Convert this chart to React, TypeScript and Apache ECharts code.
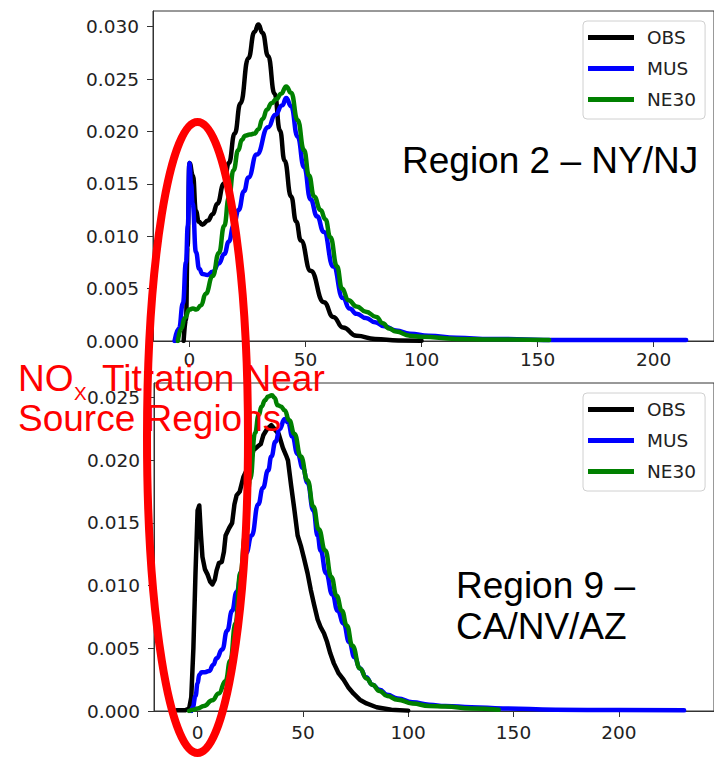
import React, { useEffect, useRef } from "react";
import * as echarts from "echarts";

// Ozone concentration density curves for two regions
const seriesNames = ["OBS", "MUS", "NE30"];
const seriesColors = ["#000000", "#0000ff", "#008000"];
const xTicks = [0, 50, 100, 150, 200];
const region2YTicks = [0, 0.005, 0.01, 0.015, 0.02, 0.025, 0.03];
const region9YTicks = [0, 0.005, 0.01, 0.015, 0.02, 0.025];

// Region 2 – NY/NJ
const region2Obs: [number, number][] = [
  [-2.5, 0], [-1.5, 0.002], [-0.8, 0.009], [0, 0.017], [1.5, 0.0158], [2.8, 0.0124], [4, 0.0114],
  [5.6, 0.0111], [8, 0.0115], [10, 0.0121], [12, 0.0131], [14.8, 0.015], [17, 0.017],
  [19.5, 0.0198], [22, 0.0227], [25.4, 0.027], [28, 0.0295], [29.7, 0.0302], [31.5, 0.0294],
  [33.9, 0.0272], [36.7, 0.0236], [39, 0.0201], [41, 0.0172], [43.8, 0.0138], [46, 0.0114],
  [48, 0.0096], [52.2, 0.0067], [57.9, 0.0037], [62, 0.0023], [66.1, 0.0013], [72, 0.0005],
  [80, 0.0002], [90, 0.00005], [100, 0.00002],
];
const region2Mus: [number, number][] = [
  [-6.4, 0], [-4.5, 0.0012], [-2.8, 0.0036], [-1.5, 0.0075], [-0.7, 0.011], [0, 0.017],
  [0.7, 0.015], [1.4, 0.0131], [2.8, 0.0085], [4.2, 0.0069], [5.6, 0.0064], [7.8, 0.0063],
  [10, 0.0066], [12.7, 0.0074], [15, 0.0083], [17, 0.0095], [19, 0.011], [21.2, 0.0125],
  [23.5, 0.0143], [25.4, 0.0156], [29, 0.0178], [33.9, 0.0204], [37, 0.0216], [40, 0.0225],
  [41.7, 0.0232], [43.8, 0.0224], [46.6, 0.0195], [49.4, 0.0166], [52.2, 0.0135],
  [55, 0.0119], [57.9, 0.0104], [62, 0.0071], [66.1, 0.0041], [69, 0.0031], [72, 0.0026],
  [76, 0.0022], [80, 0.0018], [84, 0.0014], [89, 0.001], [95, 0.0007], [103, 0.0005],
  [115, 0.0003], [130, 0.0002], [160, 0.0001], [214, 0.0001],
];
const region2Ne30: [number, number][] = [
  [-5, 0], [-3.5, 0.0012], [-2, 0.0022], [0, 0.003], [1.5, 0.0031], [3, 0.003], [5, 0.0034],
  [7, 0.0045], [10, 0.0062], [12.7, 0.0084], [15, 0.011], [17, 0.0137], [19, 0.0163],
  [21, 0.0182], [22.6, 0.0192], [24, 0.0196], [26, 0.0197], [28, 0.0198], [29.7, 0.0202],
  [31.5, 0.0212], [33.5, 0.0221], [35.3, 0.0227], [37.5, 0.0231], [39.5, 0.0236],
  [41.7, 0.0243], [43.8, 0.0237], [46.6, 0.0211], [49.4, 0.0182], [51.5, 0.0158],
  [53.7, 0.0138], [56.5, 0.0125], [58.6, 0.0116], [60.7, 0.0099], [63.6, 0.0071],
  [65.7, 0.005], [68.5, 0.0039], [72, 0.0033], [76, 0.0028], [80.5, 0.0023], [83.3, 0.0017],
  [86, 0.0012], [89, 0.0009], [95, 0.0005], [100, 0.0004], [115, 0.0002], [130, 0.00015],
  [155, 0.0001],
];

// Region 9 – CA/NV/AZ
const region9Obs: [number, number][] = [
  [-10, 0.00005], [-6, 0.00005], [-4, 0.0002], [-3, 0.0011], [-2, 0.005], [-1, 0.011],
  [0, 0.016], [0.8, 0.0164], [1.6, 0.014], [2.3, 0.0123], [3.5, 0.0113], [4.7, 0.0109],
  [6, 0.0103], [7, 0.0101], [8.2, 0.0105], [9, 0.0112], [10.1, 0.0118], [11.5, 0.0119],
  [12.5, 0.0127], [13.3, 0.014], [15, 0.0146], [16.4, 0.015], [17.5, 0.0165], [18.5, 0.0172],
  [20, 0.0175], [21.8, 0.0187], [23.5, 0.0193], [25, 0.0198], [26.5, 0.0208], [28.5, 0.0211],
  [30, 0.0213], [31.2, 0.022], [33, 0.0225], [35, 0.0228], [37, 0.0224], [38.5, 0.0221],
  [40.5, 0.021], [42, 0.0204], [42.9, 0.02], [44.4, 0.018], [46, 0.016], [47.5, 0.014],
  [49, 0.0132], [50.5, 0.0122], [52.2, 0.011], [53.7, 0.0097], [55.3, 0.0085], [57, 0.0073],
  [58.4, 0.0067], [60, 0.0062], [61.5, 0.0055], [63, 0.0046], [64.7, 0.0038], [67, 0.003],
  [69.3, 0.0025], [71.5, 0.0019], [74, 0.0014], [77, 0.0009], [80.2, 0.0006], [85, 0.0003],
  [92, 0.0001], [100, 0.00003],
];
const region9Mus: [number, number][] = [
  [-3, 0], [-2.3, 0.0003], [-1, 0.0012], [0, 0.0022], [0.8, 0.0029], [2, 0.0031],
  [3.5, 0.0031], [5.5, 0.0032], [7.5, 0.0037], [9, 0.0042], [11.7, 0.0049], [14, 0.0064],
  [16.4, 0.008], [18.5, 0.0095], [21, 0.0112], [23, 0.0126], [25.7, 0.014], [28.8, 0.0165],
  [31, 0.0178], [33.5, 0.0192], [35, 0.0203], [37, 0.0215], [39, 0.0225], [41.3, 0.0233],
  [43, 0.023], [45, 0.0219], [47.5, 0.0205], [50, 0.0194], [52.2, 0.0182], [55, 0.016],
  [57, 0.014], [58.4, 0.0128], [61, 0.011], [64, 0.0093], [66.5, 0.008], [69.3, 0.007],
  [72, 0.0055], [74.5, 0.0043], [77.1, 0.0034], [80, 0.0027], [83, 0.0021], [86.4, 0.0017],
  [90, 0.0013], [95, 0.001], [102, 0.0007], [110, 0.0005], [117.6, 0.0004], [130, 0.0003],
  [145, 0.0002], [170, 0.0001], [200, 0.00007], [231, 0.00005],
];
const region9Ne30: [number, number][] = [
  [-4, 0], [-2, 0.0001], [0, 0.0002], [3, 0.0004], [7, 0.00085], [10, 0.0014], [13.3, 0.0024],
  [15.5, 0.004], [18, 0.007], [20.3, 0.011], [22.6, 0.014], [25, 0.0185], [27.3, 0.0222],
  [29, 0.0236], [30.4, 0.0243], [32, 0.0248], [33.5, 0.0251], [35.3, 0.0252], [36.5, 0.025],
  [38, 0.0244], [39.5, 0.0243], [41.3, 0.024], [43.5, 0.0232], [46, 0.0221], [49, 0.0203],
  [52.2, 0.0184], [55, 0.0163], [57.5, 0.0145], [60.6, 0.0128], [63.5, 0.0107], [66, 0.0092],
  [68.5, 0.008], [70.9, 0.0068], [73.5, 0.0052], [77.1, 0.0034], [80.2, 0.0026], [83, 0.0021],
  [86.4, 0.0016], [90, 0.0012], [95, 0.0009], [102, 0.0006], [110, 0.0004], [117.6, 0.00035],
  [130, 0.0002], [143, 0.0001],
];

const tickFont = "DejaVu Sans";
const tickColor = "#222222";
const frameColor = "#333333";
const labelFont = "Liberation Sans, Arial, sans-serif";

function xAxisFor(gridIndex: number, min: number, max: number, margin: number) {
  return {
    type: "value",
    gridIndex,
    min,
    max,
    axisLine: { show: true, onZero: false, lineStyle: { color: frameColor, width: 1 } },
    axisTick: { show: true, length: 6, lineStyle: { color: frameColor }, customValues: xTicks },
    axisLabel: {
      customValues: xTicks,
      fontFamily: tickFont,
      fontSize: 18.5,
      color: tickColor,
      margin,
    },
    splitLine: { show: false },
  };
}

function yAxisFor(gridIndex: number, max: number, ticks: number[]) {
  return {
    type: "value",
    gridIndex,
    min: 0,
    max,
    axisLine: { show: true, onZero: false, lineStyle: { color: frameColor, width: 1 } },
    axisTick: { show: true, length: 6, lineStyle: { color: frameColor }, customValues: ticks },
    axisLabel: {
      customValues: ticks,
      fontFamily: tickFont,
      fontSize: 18.5,
      color: tickColor,
      margin: 14,
      formatter: (v: number) => v.toFixed(3),
    },
    splitLine: { show: false },
  };
}

function legendAt(top: number) {
  return {
    left: 583,
    top,
    orient: "vertical",
    data: seriesNames,
    icon: "rect",
    itemWidth: 46,
    itemHeight: 5,
    itemGap: 12,
    padding: [7, 9, 10, 5],
    textStyle: { fontFamily: tickFont, fontSize: 18.5, color: tickColor, padding: [0, 0, 0, 8] },
    backgroundColor: "rgba(255,255,255,0.85)",
    borderColor: "#d0d0d0",
    borderWidth: 1,
    borderRadius: 4,
  };
}

function lineSeries(name: string, idx: number, data: [number, number][], smooth: number | boolean) {
  const color = seriesColors[seriesNames.indexOf(name)];
  return {
    type: "line",
    name,
    xAxisIndex: idx,
    yAxisIndex: idx,
    data,
    symbol: "none",
    showSymbol: false,
    smooth,
    smoothMonotone: "x",
    lineStyle: { width: 4.5, color, join: "round", cap: "round" },
    itemStyle: { color },
    z: 2 + seriesNames.indexOf(name),
  };
}

function text(x: number, y: number, content: string, size: number, color: string) {
  return {
    type: "text",
    x,
    y,
    z: 100,
    style: {
      text: content,
      font: `${size}px ${labelFont}`,
      fill: color,
      textAlign: "left",
      align: "left",
      textVerticalAlign: "middle",
      verticalAlign: "middle",
    },
  };
}

export default function App() {
  const ref = useRef<HTMLDivElement>(null);

  useEffect(() => {
    if (!ref.current) return;
    const chart = echarts.init(ref.current, undefined, { renderer: "svg" });
    chart.setOption({
      animation: false,
      backgroundColor: "#ffffff",
      grid: [
        { left: 153, top: 11, width: 570, height: 330, show: true, borderColor: frameColor, borderWidth: 1 },
        { left: 154, top: 383, width: 569, height: 328, show: true, borderColor: frameColor, borderWidth: 1 },
      ],
      xAxis: [xAxisFor(0, -15.7, 226, 9), xAxisFor(1, -20.7, 245.2, 12)],
      yAxis: [yAxisFor(0, 0.0315, region2YTicks), yAxisFor(1, 0.02617, region9YTicks)],
      legend: [legendAt(21), legendAt(393)],
      series: [
        lineSeries("OBS", 0, region2Obs, 0.5),
        lineSeries("MUS", 0, region2Mus, 0.5),
        lineSeries("NE30", 0, region2Ne30, 0.5),
        lineSeries("OBS", 1, region9Obs, false),
        lineSeries("MUS", 1, region9Mus, 0.5),
        lineSeries("NE30", 1, region9Ne30, 0.5),
      ],
      graphic: [
        text(402, 160, "Region 2 – NY/NJ", 37, "#000000"),
        text(456, 585, "Region 9 –", 37, "#000000"),
        text(456, 626, "CA/NV/AZ", 37, "#000000"),
        text(18, 378, "NO", 37, "#ff0000"),
        text(74, 393.5, "X", 19, "#ff0000"),
        text(102, 378, "Titration Near", 37, "#ff0000"),
        text(18, 418, "Source Regions", 37, "#ff0000"),
        {
          type: "ellipse",
          z: 101,
          shape: { cx: 197.5, cy: 437.5, rx: 50.5, ry: 315.5 },
          style: { fill: "none", stroke: "#ff0000", lineWidth: 8 },
        },
      ],
    });
    return () => chart.dispose();
  }, []);

  return (
    <div
      ref={ref}
      style={{ position: "fixed", left: 0, top: 0, width: 714, height: 758, background: "#ffffff" }}
    />
  );
}
